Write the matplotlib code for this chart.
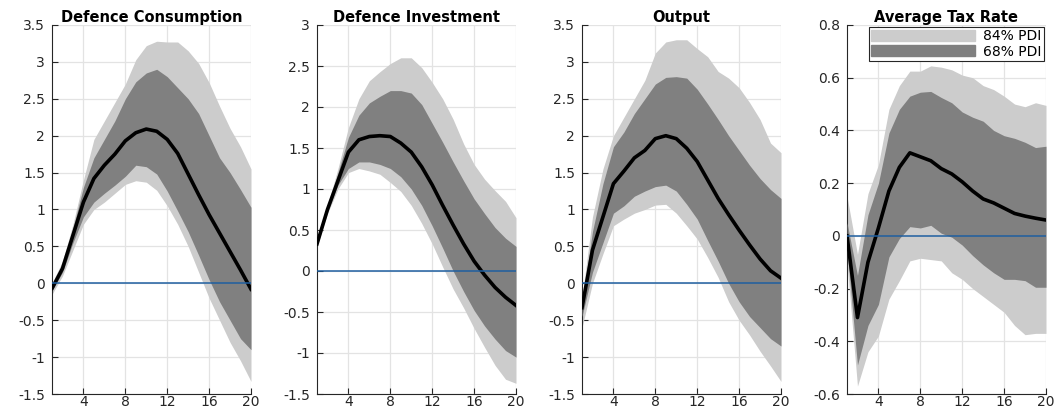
import matplotlib
matplotlib.use("Agg")
import matplotlib.pyplot as plt
import matplotlib.patches as mpatches
import numpy as np

plt.rcParams["font.family"] = ["DejaVu Sans"]

horizon = np.arange(1, 21)

titles = ["Defence Consumption", "Defence Investment", "Output", "Average Tax Rate"]

# posterior median responses
median_cons = [-0.07, 0.2, 0.65, 1.1, 1.42, 1.6, 1.75, 1.93, 2.04, 2.09,
               2.06, 1.95, 1.76, 1.48, 1.2, 0.93, 0.68, 0.43, 0.18, -0.08]
median_inv = [0.33, 0.75, 1.1, 1.45, 1.6, 1.64, 1.65, 1.64, 1.56, 1.45,
              1.27, 1.05, 0.8, 0.56, 0.33, 0.12, -0.05, -0.2, -0.32, -0.42]
median_out = [-0.33, 0.45, 0.9, 1.35, 1.52, 1.7, 1.8, 1.96, 2.0, 1.96,
              1.83, 1.65, 1.4, 1.15, 0.93, 0.72, 0.52, 0.33, 0.17, 0.07]
median_tax = [0.0, -0.31, -0.1, 0.03, 0.17, 0.26, 0.315, 0.3, 0.285, 0.255,
              0.235, 0.205, 0.17, 0.14, 0.125, 0.105, 0.085, 0.075, 0.067, 0.06]

# 84% band (upper / lower)
hi84_cons = [0.0, 0.3, 0.8, 1.4, 1.95, 2.2, 2.45, 2.7, 3.03, 3.22,
             3.28, 3.27, 3.27, 3.15, 2.98, 2.72, 2.4, 2.1, 1.85, 1.55]
lo84_cons = [-0.15, 0.1, 0.45, 0.8, 1.0, 1.1, 1.22, 1.34, 1.39, 1.37,
             1.26, 1.05, 0.8, 0.5, 0.15, -0.2, -0.5, -0.8, -1.05, -1.33]
hi84_inv = [0.35, 0.8, 1.25, 1.75, 2.1, 2.32, 2.43, 2.53, 2.6, 2.6,
            2.48, 2.3, 2.1, 1.85, 1.55, 1.3, 1.12, 0.98, 0.85, 0.65]
lo84_inv = [0.3, 0.7, 1.0, 1.2, 1.25, 1.22, 1.18, 1.08, 0.97, 0.8,
            0.58, 0.33, 0.05, -0.22, -0.45, -0.7, -0.93, -1.15, -1.32, -1.37]
hi84_out = [-0.2, 0.9, 1.55, 2.0, 2.25, 2.5, 2.75, 3.12, 3.27, 3.3,
            3.3, 3.18, 3.07, 2.87, 2.78, 2.65, 2.45, 2.22, 1.9, 1.77]
lo84_out = [-0.6, 0.0, 0.4, 0.78, 0.87, 0.95, 1.0, 1.06, 1.07, 0.95,
            0.78, 0.6, 0.35, 0.08, -0.25, -0.5, -0.7, -0.92, -1.12, -1.33]
hi84_tax = [0.15, -0.07, 0.16, 0.27, 0.48, 0.57, 0.625, 0.625, 0.645, 0.64,
            0.63, 0.61, 0.6, 0.57, 0.555, 0.53, 0.5, 0.49, 0.505, 0.495]
lo84_tax = [-0.1, -0.57, -0.44, -0.38, -0.24, -0.17, -0.095, -0.085, -0.09, -0.095,
            -0.14, -0.165, -0.2, -0.23, -0.26, -0.29, -0.34, -0.375, -0.37, -0.37]

# 68% band (upper / lower)
hi68_cons = [-0.02, 0.25, 0.75, 1.3, 1.7, 1.95, 2.2, 2.5, 2.73, 2.85,
             2.9, 2.8, 2.65, 2.5, 2.3, 2.0, 1.7, 1.5, 1.27, 1.03]
lo68_cons = [-0.1, 0.15, 0.55, 0.9, 1.1, 1.22, 1.33, 1.45, 1.6, 1.58,
             1.48, 1.25, 0.98, 0.7, 0.38, 0.05, -0.25, -0.5, -0.75, -0.9]
hi68_inv = [0.33, 0.77, 1.2, 1.63, 1.9, 2.05, 2.13, 2.2, 2.2, 2.17,
            2.03, 1.8, 1.57, 1.33, 1.1, 0.88, 0.7, 0.53, 0.4, 0.3]
lo68_inv = [0.32, 0.72, 1.05, 1.25, 1.33, 1.33, 1.3, 1.25, 1.15, 1.0,
            0.8, 0.55, 0.28, 0.0, -0.25, -0.48, -0.67, -0.83, -0.97, -1.05]
hi68_out = [-0.25, 0.7, 1.35, 1.85, 2.05, 2.3, 2.5, 2.7, 2.79, 2.8,
            2.78, 2.63, 2.43, 2.22, 2.0, 1.8, 1.6, 1.42, 1.27, 1.15]
lo68_out = [-0.45, 0.15, 0.55, 0.95, 1.05, 1.18, 1.25, 1.31, 1.33, 1.25,
            1.07, 0.87, 0.58, 0.3, 0.0, -0.25, -0.45, -0.6, -0.75, -0.85]
hi68_tax = [0.05, -0.15, 0.08, 0.2, 0.39, 0.48, 0.53, 0.545, 0.548, 0.525,
            0.505, 0.47, 0.45, 0.435, 0.4, 0.38, 0.37, 0.355, 0.335, 0.34]
lo68_tax = [-0.05, -0.49, -0.34, -0.26, -0.08, -0.01, 0.035, 0.03, 0.04, 0.01,
            -0.005, -0.035, -0.075, -0.11, -0.14, -0.165, -0.165, -0.17, -0.195, -0.195]

medians = [median_cons, median_inv, median_out, median_tax]
bands84 = [(lo84_cons, hi84_cons), (lo84_inv, hi84_inv), (lo84_out, hi84_out), (lo84_tax, hi84_tax)]
bands68 = [(lo68_cons, hi68_cons), (lo68_inv, hi68_inv), (lo68_out, hi68_out), (lo68_tax, hi68_tax)]

ylims = [(-1.5, 3.5), (-1.5, 3.0), (-1.5, 3.5), (-0.6, 0.8)]
yticks = [np.arange(-1.5, 3.51, 0.5), np.arange(-1.5, 3.01, 0.5),
          np.arange(-1.5, 3.51, 0.5), np.arange(-0.6, 0.81, 0.2)]

light_gray = "#cccccc"
dark_gray = "#808080"

fig = plt.figure(figsize=(10.56, 4.09), dpi=100)
lefts = [52, 317, 582, 847]
W, H = 1056, 409

for i in range(4):
    ax = fig.add_axes([lefts[i] / W, 15 / H, 199 / W, 369 / H])
    lo, hi = bands84[i]
    ax.fill_between(horizon, lo, hi, color=light_gray, linewidth=0, zorder=2)
    lo, hi = bands68[i]
    ax.fill_between(horizon, lo, hi, color=dark_gray, linewidth=0, zorder=3)
    ax.plot(horizon, medians[i], color="black", linewidth=2.6, zorder=4)
    ax.axhline(0, color="#1f5fa0", linewidth=1.1, zorder=5)

    ax.set_xlim(1, 20)
    ax.set_ylim(*ylims[i])
    ax.set_xticks([4, 8, 12, 16, 20])
    ax.set_yticks(yticks[i])
    ax.set_yticklabels([f"{v:g}" for v in np.round(yticks[i], 2)])
    ax.grid(True, color="#e3e3e3", linewidth=0.9, zorder=0)
    ax.set_axisbelow(True)
    ax.spines["top"].set_visible(False)
    ax.spines["right"].set_visible(False)
    ax.spines["left"].set_color("#262626")
    ax.spines["bottom"].set_color("#262626")
    ax.tick_params(direction="in", length=4, width=0.8, labelsize=10,
                   colors="#262626")
    ax.tick_params(axis="x", pad=1)
    ax.tick_params(axis="y", pad=5)
    ax.set_title(titles[i], fontsize=10.5, fontweight="bold", pad=1)

    if i == 3:
        handles = [mpatches.Patch(color=light_gray, label="84% PDI"),
                   mpatches.Patch(color=dark_gray, label="68% PDI")]
        leg = ax.legend(handles=handles, loc="upper right", fontsize=10,
                        handlelength=7.5, handleheight=0.8, borderpad=0.15,
                        labelspacing=0.1, handletextpad=0.6, borderaxespad=0.15,
                        fancybox=False, framealpha=1)
        leg.get_frame().set_edgecolor("#262626")
        leg.get_frame().set_linewidth(0.8)

fig.savefig("out.png", dpi=100)
